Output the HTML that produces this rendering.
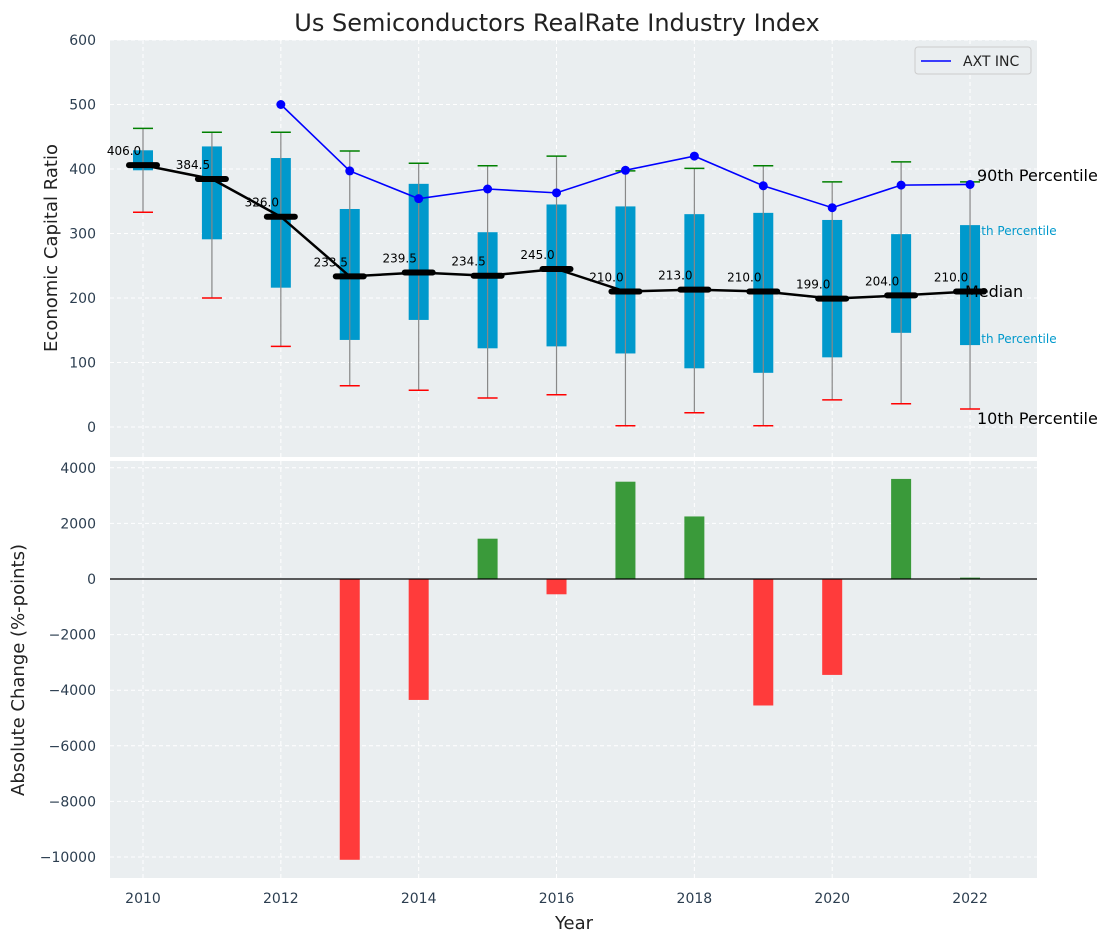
<!DOCTYPE html>
<html><head><meta charset="utf-8"><style>
body{margin:0;background:#fff;font-family:"Liberation Sans","DejaVu Sans",sans-serif}
svg text{font-family:"DejaVu Sans","Liberation Sans",sans-serif}
</style></head><body>
<svg id="c" width="1112" height="942" xmlns="http://www.w3.org/2000/svg"></svg>
<script>
const years=[2010,2011,2012,2013,2014,2015,2016,2017,2018,2019,2020,2021,2022];
const q3=[429,435,417,338,377,302,345,342,330,332,321,299,313];
const q1=[398,291,216,135,166,122,125,114,91,84,108,146,127];
const p90=[463,457,457,428,409,405,420,397,401,405,380,411,380];
const p10=[333,200,125,64,57,45,50,2,22,2,42,36,28];
const medians=[406,384.5,326,233.5,239.5,234.5,245,210,213,210,199,204,210];
const axtYears=[2012,2013,2014,2015,2016,2017,2018,2019,2020,2021,2022];
const axt=[500,397,354,369,363,398,420,374,340,375,376];
const changes=[null,null,null,-10100,-4350,1450,-550,3500,2250,-4550,-3450,3600,50];
const topTicks=[0,100,200,300,400,500,600];
const botTicks=[-10000,-8000,-6000,-4000,-2000,0,2000,4000];
const xTicks=[2010,2012,2014,2016,2018,2020,2022];

const NS="http://www.w3.org/2000/svg";
const svg=document.getElementById('c');
function el(tag,attrs,parent,text){const e=document.createElementNS(NS,tag);for(const k in attrs)e.setAttribute(k,attrs[k]);if(text!==undefined)e.textContent=text;(parent||svg).appendChild(e);return e;}
const L=110,R=1037;
const x=v=>143+(v-2010)*68.92;
const yT=v=>427-v*0.645;
const yB=v=>579-v*0.0278;

let e=el('rect',{x:L,y:40,width:R-L,height:417,fill:'#eaeef0'});


e=el('rect',{x:L,y:461,width:R-L,height:417,fill:'#eaeef0'});



xTicks.forEach(t=>{
  el('line',{x1:x(t),x2:x(t),y1:40,y2:457,stroke:'#fff','stroke-dasharray':'4,3'});
  el('line',{x1:x(t),x2:x(t),y1:461,y2:878,stroke:'#fff','stroke-dasharray':'4,3'});
  e=el('text',{x:x(t),y:903,'text-anchor':'middle','font-size':14,fill:'#2c3e50'},svg,t);
  
  
});
topTicks.forEach(t=>{
  el('line',{x1:L,x2:R,y1:yT(t),y2:yT(t),stroke:'#fff','stroke-dasharray':'4,3'});
  e=el('text',{x:96,y:yT(t)+5,'text-anchor':'end','font-size':14,fill:'#2c3e50'},svg,t);
  
  
});
botTicks.forEach(t=>{
  el('line',{x1:L,x2:R,y1:yB(t),y2:yB(t),stroke:'#fff','stroke-dasharray':'4,3'});
  e=el('text',{x:96,y:yB(t)+5,'text-anchor':'end','font-size':14,fill:'#2c3e50'},svg,t<0?'\u2212'+(-t):t);
  
  
});

const lab=[['90th Percentile',977,181,'#000',16],['75th Percentile',966,235,'#0099cc',12],['25th Percentile',966,343,'#0099cc',12],['10th Percentile',977,424,'#000',16]];
lab.forEach(l=>{e=el('text',{x:l[1],y:l[2],'font-size':l[4],fill:l[3]},svg,l[0]);

});

years.forEach((yr,i)=>{
  const cx=x(yr);
  e=el('rect',{x:cx-10,y:yT(q3[i]),width:20,height:yT(q1[i])-yT(q3[i]),fill:'#0099cc'});
  
  
  e=el('line',{x1:cx,x2:cx,y1:yT(p10[i]),y2:yT(p90[i]),stroke:'#888','stroke-width':1.2});
  
  
  e=el('line',{x1:cx-10,x2:cx+10,y1:yT(p90[i]),y2:yT(p90[i]),stroke:'green','stroke-width':1.5});
  
  
  e=el('line',{x1:cx-10,x2:cx+10,y1:yT(p10[i]),y2:yT(p10[i]),stroke:'red','stroke-width':1.5});
  
  
});
e=el('text',{x:965,y:297,'font-size':16,fill:'#000'},svg,'Median');


e=el('polyline',{points:years.map((yr,i)=>x(yr)+','+yT(medians[i])).join(' '),fill:'none',stroke:'#000','stroke-width':2.5});


years.forEach((yr,i)=>{
  const cx=x(yr),cy=yT(medians[i]);
  e=el('line',{x1:cx-14,x2:cx+14,y1:cy,y2:cy,stroke:'#000','stroke-width':6,'stroke-linecap':'round'});
  
  
  e=el('text',{x:cx-19,y:cy-10,'text-anchor':'middle','font-size':12,fill:'#000'},svg,medians[i].toFixed(1));
  
  
});
e=el('polyline',{points:axtYears.map((yr,i)=>x(yr)+','+yT(axt[i])).join(' '),fill:'none',stroke:'#0000ff','stroke-width':1.6});


axtYears.forEach((yr,i)=>{e=el('circle',{cx:x(yr),cy:yT(axt[i]),r:4.5,fill:'#0000ff'});

});

e=el('rect',{x:915,y:47,width:116,height:27,fill:'#eaeef0',stroke:'#ccc',rx:3});


el('line',{x1:921,x2:951,y1:61,y2:61,stroke:'#0000ff','stroke-width':1.6});
e=el('text',{x:963,y:66,'font-size':14,fill:'#222'},svg,'AXT INC');



years.forEach((yr,i)=>{
  const v=changes[i]; if(v===null)return;
  const y0=yB(0),y1=yB(v);
  e=el('rect',{x:x(yr)-10,y:Math.min(y0,y1),width:20,height:Math.abs(y1-y0),fill:v>=0?'#3a9a3a':'#ff3b3b'});
  
  
});
el('line',{x1:L,x2:R,y1:yB(0),y2:yB(0),stroke:'#000','stroke-width':1.2});

e=el('text',{x:557,y:31,'text-anchor':'middle','font-size':24,fill:'#222'},svg,'Us Semiconductors RealRate Industry Index');


e=el('text',{x:574,y:929,'text-anchor':'middle','font-size':18,fill:'#222'},svg,'Year');


e=el('text',{x:57,y:248,'text-anchor':'middle','font-size':18,fill:'#222',transform:'rotate(-90 57 248)'},svg,'Economic Capital Ratio');


e=el('text',{x:24,y:670,'text-anchor':'middle','font-size':18,fill:'#222',transform:'rotate(-90 24 670)'},svg,'Absolute Change (%-points)');


</script>
</body></html>
